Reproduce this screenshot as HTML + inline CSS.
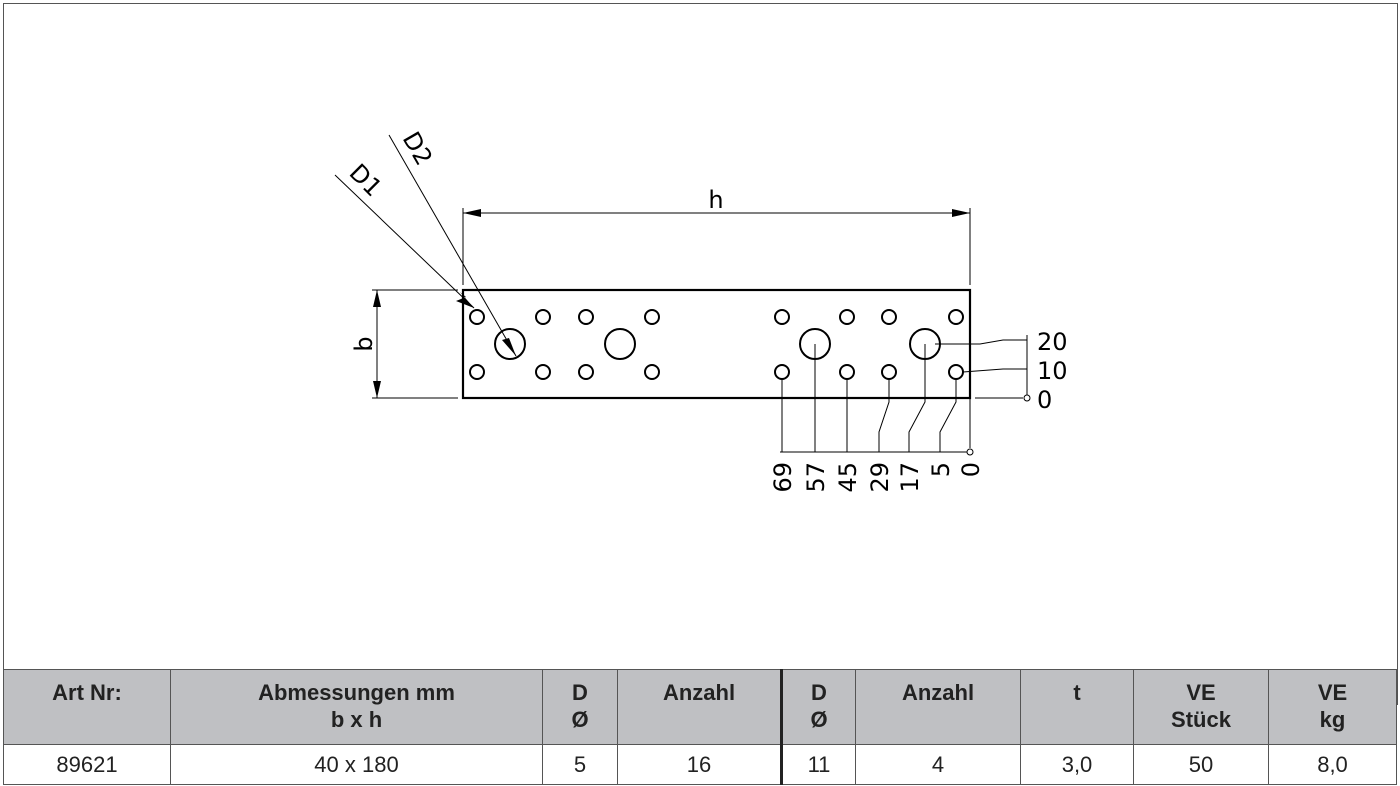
<!DOCTYPE html>
<html><head><meta charset="utf-8"><style>
body{margin:0;background:#fff;}
.wrap{position:relative;width:1400px;height:786px;overflow:hidden;font-family:"Liberation Sans",sans-serif;}
table{position:absolute;left:3px;top:669px;width:1394px;border-collapse:collapse;table-layout:fixed;}
td{border:1.5px solid #555;text-align:center;font-size:22px;color:#222;padding:0;box-sizing:border-box;}
tr.h td{background:#bfc0c3;font-weight:bold;height:75px;vertical-align:top;padding-top:9px;line-height:27px;}
tr.d td{height:40px;}
</style></head><body><div class="wrap">
<div style="position:absolute;left:3px;top:3px;width:1393px;height:700px;border:1.5px solid #555;"></div>
<svg width="1400" height="786" style="position:absolute;left:0;top:0" font-family="DejaVu Sans, sans-serif" fill="none" stroke="#000">
<rect x="463" y="290" width="507" height="108" stroke-width="2.2"/>
<g stroke-width="2">
<circle cx="477" cy="317" r="7"/><circle cx="543" cy="317" r="7"/><circle cx="586" cy="317" r="7"/><circle cx="652" cy="317" r="7"/>
<circle cx="782" cy="317" r="7"/><circle cx="847" cy="317" r="7"/><circle cx="889" cy="317" r="7"/><circle cx="956" cy="317" r="7"/>
<circle cx="477" cy="372" r="7"/><circle cx="543" cy="372" r="7"/><circle cx="586" cy="372" r="7"/><circle cx="652" cy="372" r="7"/>
<circle cx="782" cy="372" r="7"/><circle cx="847" cy="372" r="7"/><circle cx="889" cy="372" r="7"/><circle cx="956" cy="372" r="7"/>
<circle cx="510" cy="344" r="15"/><circle cx="620" cy="344" r="15"/><circle cx="815" cy="344" r="15"/><circle cx="925" cy="344" r="15"/>
</g>
<g stroke-width="1">
<line x1="463" y1="208" x2="463" y2="285"/><line x1="970" y1="208" x2="970" y2="285"/>
<line x1="463" y1="213" x2="970" y2="213"/>
<line x1="372" y1="290" x2="458" y2="290"/><line x1="372" y1="398" x2="458" y2="398"/>
<line x1="377" y1="290" x2="377" y2="398"/>
<line x1="335" y1="175" x2="474" y2="308"/>
<line x1="389" y1="135" x2="516" y2="356"/>
<line x1="780" y1="452" x2="967" y2="452"/>
<line x1="782" y1="379" x2="782" y2="452"/><line x1="815" y1="344" x2="815" y2="452"/><line x1="847" y1="379" x2="847" y2="452"/>
<polyline points="889,379 889,402 879,432 879,452"/>
<polyline points="925,344 925,402 909,432 909,452"/>
<polyline points="956,379 956,402 940,432 940,452"/>
<line x1="970" y1="398" x2="970" y2="448"/>
<line x1="1027" y1="335" x2="1027" y2="395"/>
<polyline points="935,344 980,344 1003,340 1027,340"/>
<polyline points="963,372 1003,369 1027,369"/>
<line x1="975" y1="398" x2="1023" y2="398"/>
<circle cx="970" cy="452" r="3"/><circle cx="1027" cy="398" r="3"/>
</g>
<g fill="#000" stroke="none">
<polygon points="463,213 481,209 481,217"/><polygon points="970,213 952,209 952,217"/>
<polygon points="377,290 373,307 381,307"/><polygon points="377,398 373,381 381,381"/>
<polygon points="474,308 460,292 466,297 456,301"/>
<polygon points="516,356 502,340 509,338"/>
</g>
<g fill="#000" stroke="none" font-size="24">
<text x="716" y="208" text-anchor="middle">h</text>
<text transform="translate(372,344) rotate(-90)" text-anchor="middle">b</text>
<text transform="translate(348,174) rotate(45)">D1</text>
<text transform="translate(402,138) rotate(60)">D2</text>
<text x="1037" y="350">20</text><text x="1037" y="379">10</text><text x="1037" y="408">0</text>
<g font-size="24">
<text transform="translate(791,462) rotate(-90)" text-anchor="end">69</text>
<text transform="translate(824,462) rotate(-90)" text-anchor="end">57</text>
<text transform="translate(856,462) rotate(-90)" text-anchor="end">45</text>
<text transform="translate(888,462) rotate(-90)" text-anchor="end">29</text>
<text transform="translate(918,462) rotate(-90)" text-anchor="end">17</text>
<text transform="translate(949,462) rotate(-90)" text-anchor="end">5</text>
<text transform="translate(979,462) rotate(-90)" text-anchor="end">0</text>
</g></g>
</svg>
<table>
<colgroup><col style="width:167px"><col style="width:372px"><col style="width:75px"><col style="width:164px"><col style="width:74px"><col style="width:165px"><col style="width:113px"><col style="width:135px"><col></colgroup>
<tr class="h"><td>Art Nr:</td><td>Abmessungen mm<br>b x h</td><td>D<br>Ø</td><td style="border-right:3px solid #222">Anzahl</td><td>D<br>Ø</td><td>Anzahl</td><td>t</td><td>VE<br>Stück</td><td>VE<br>kg</td></tr>
<tr class="d"><td>89621</td><td>40 x 180</td><td>5</td><td style="border-right:3px solid #222">16</td><td>11</td><td>4</td><td>3,0</td><td>50</td><td>8,0</td></tr>
</table>
</div></body></html>
